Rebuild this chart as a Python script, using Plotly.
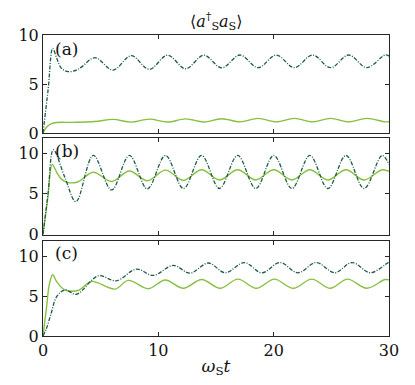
import plotly.graph_objects as go

# ---- data ----
t_a_dash = [0, 0.45, 0.84, 1.2, 1.6, 2.2, 2.9, 3.3, 4.51, 6.08, 7.65, 9.22, 10.8, 12.37, 13.94, 15.5, 17.08, 18.65, 20.23, 21.8, 23.37, 24.94, 26.5, 28.08, 29.66, 30]
v_a_dash = [0, 4.5, 8.64, 7.6, 6.6, 6.26, 6.42, 6.7, 7.69, 6.43, 7.89, 6.5, 7.94, 6.56, 7.94, 6.65, 7.96, 6.67, 7.96, 6.67, 7.96, 6.67, 7.96, 6.67, 7.96, 7.85]
t_a_solid = [0, 0.3, 0.7, 1.2, 2.5, 4.5, 6.08, 7.65, 9.22, 10.8, 12.37, 13.94, 15.5, 17.08, 18.65, 20.23, 21.8, 23.37, 24.94, 26.5, 28.08, 29.66, 30]
v_a_solid = [0, 0.6, 0.95, 1.08, 1.1, 1.18, 1.4, 1.12, 1.43, 1.13, 1.45, 1.14, 1.47, 1.15, 1.5, 1.15, 1.5, 1.15, 1.5, 1.15, 1.5, 1.15, 1.16]

t_b_dash = [0, 0.45, 0.9, 1.9, 2.86, 4.36, 5.95, 7.49, 9.05, 10.62, 12.18, 13.75, 15.3, 16.88, 18.45, 20.01, 21.58, 23.14, 24.7, 26.27, 27.84, 29.4, 30]
v_b_dash = [0, 5.2, 10.4, 7.0, 4.04, 9.7, 5.47, 9.7, 5.6, 9.7, 5.65, 9.7, 5.65, 9.7, 5.65, 9.7, 5.65, 9.7, 5.65, 9.7, 5.65, 9.7, 8.6]
t_b_solid = [0, 0.4, 0.8, 1.2, 1.6, 2.1, 3.0, 4.36, 5.95, 7.49, 9.05, 10.62, 12.18, 13.75, 15.3, 16.88, 18.45, 20.01, 21.58, 23.14, 24.7, 26.27, 27.84, 29.4, 30]
v_b_solid = [0, 4.3, 8.6, 7.6, 6.8, 6.4, 6.45, 7.65, 6.5, 7.8, 6.6, 7.9, 6.65, 7.95, 6.7, 7.95, 6.7, 7.95, 6.7, 7.95, 6.7, 7.95, 6.7, 7.95, 7.75]

t_c_dash = [0, 0.3, 0.7, 1.19, 1.9, 2.9, 4.8, 6.35, 8.1, 9.57, 11.3, 12.75, 14.34, 15.8, 17.46, 18.97, 20.55, 22.1, 23.7, 25.3, 26.8, 28.4, 29.95, 30]
v_c_dash = [0, 0.95, 2.8, 4.96, 5.8, 5.25, 7.57, 6.94, 8.42, 7.62, 8.88, 7.9, 9.18, 7.95, 9.24, 7.95, 9.24, 7.95, 9.24, 7.95, 9.24, 7.95, 9.24, 9.23]
t_c_solid = [0, 0.3, 0.55, 0.84, 1.2, 1.9, 3.1, 4.2, 6.24, 7.4, 9.13, 10.6, 12.17, 13.76, 15.35, 16.9, 18.5, 20.06, 21.7, 23.3, 24.9, 26.4, 28.07, 29.66, 30]
v_c_solid = [0, 3.5, 6.5, 7.7, 6.8, 5.8, 5.75, 6.86, 5.9, 7.0, 5.95, 7.05, 6.0, 7.1, 6.0, 7.15, 6.0, 7.15, 6.0, 7.15, 6.0, 7.15, 6.0, 7.1, 7.05]

x_ticks = [0, 10, 20, 30]
y_ticks = [0, 5, 10]
panel_labels = ["(a)", "(b)", "(c)"]
y_ranges = [[0, 10], [0, 11.85], [0, 12]]

DARK = "#1e5a46"
LIGHT = "#86c040"
FONT = "DejaVu Serif"

fig = go.Figure()
panels = [
    (t_a_dash, v_a_dash, t_a_solid, v_a_solid),
    (t_b_dash, v_b_dash, t_b_solid, v_b_solid),
    (t_c_dash, v_c_dash, t_c_solid, v_c_solid),
]
for i, (td, vd, ts, vs) in enumerate(panels):
    xa = "x" if i == 0 else f"x{i+1}"
    ya = "y" if i == 0 else f"y{i+1}"
    fig.add_trace(go.Scatter(x=ts, y=vs, mode="lines", xaxis=xa, yaxis=ya,
                             line=dict(color=LIGHT, width=1.4, shape="spline", smoothing=1.0),
                             showlegend=False))
    fig.add_trace(go.Scatter(x=td, y=vd, mode="lines", xaxis=xa, yaxis=ya,
                             line=dict(color=DARK, width=1.3, dash="4px,1.5px,1px,1.5px",
                                       shape="spline", smoothing=1.0),
                             showlegend=False))

domains = [[0.674, 1.0], [0.337, 0.658], [0.0, 0.317]]
axis_common = dict(showline=True, linecolor="#262626", linewidth=1, mirror="ticks",
                   ticks="inside", ticklen=4, tickcolor="#262626", showgrid=False, zeroline=False,
                   automargin=False,
                   tickfont=dict(family=FONT, size=16, color="#111"))
# page body has an 8px margin, so the figure is sized to fit the window
layout = dict(
    width=407, height=377,
    margin=dict(l=35, r=26, t=27, b=49),
    plot_bgcolor="white", paper_bgcolor="white",
    font=dict(family=FONT, size=16, color="#111"),
)
for i in range(3):
    xk = "xaxis" if i == 0 else f"xaxis{i+1}"
    yk = "yaxis" if i == 0 else f"yaxis{i+1}"
    ya = "y" if i == 0 else f"y{i+1}"
    xa = "x" if i == 0 else f"x{i+1}"
    layout[xk] = dict(axis_common, range=[0, 30], tickvals=x_ticks, anchor=ya,
                      showticklabels=(i == 2), domain=[0, 1])
    layout[yk] = dict(axis_common, range=y_ranges[i], tickvals=y_ticks, anchor=xa,
                      domain=domains[i])
fig.update_layout(**layout)
fig.update_layout(xaxis3=dict(title=dict(text="<i>ω</i><sub>S</sub><i>t</i>", standoff=0,
                                         font=dict(family=FONT, size=17))))

ann = []
label_y = [0.955, 0.615, 0.275]
for i, lab in enumerate(panel_labels):
    ann.append(dict(text=lab, x=0.03, y=label_y[i], xref="paper", yref="paper",
                    xanchor="left", yanchor="middle", showarrow=False,
                    font=dict(family=FONT, size=17, color="#111")))
ann.append(dict(text="⟨<i>a</i><sup>†</sup><sub>S</sub><i>a</i><sub>S</sub>⟩", x=0.5, y=1.0,
                xref="paper", yref="paper", yshift=0, xanchor="center", yanchor="bottom",
                showarrow=False, font=dict(family=FONT, size=16, color="#111")))
fig.update_layout(annotations=ann)

fig.write_html("out.html")
